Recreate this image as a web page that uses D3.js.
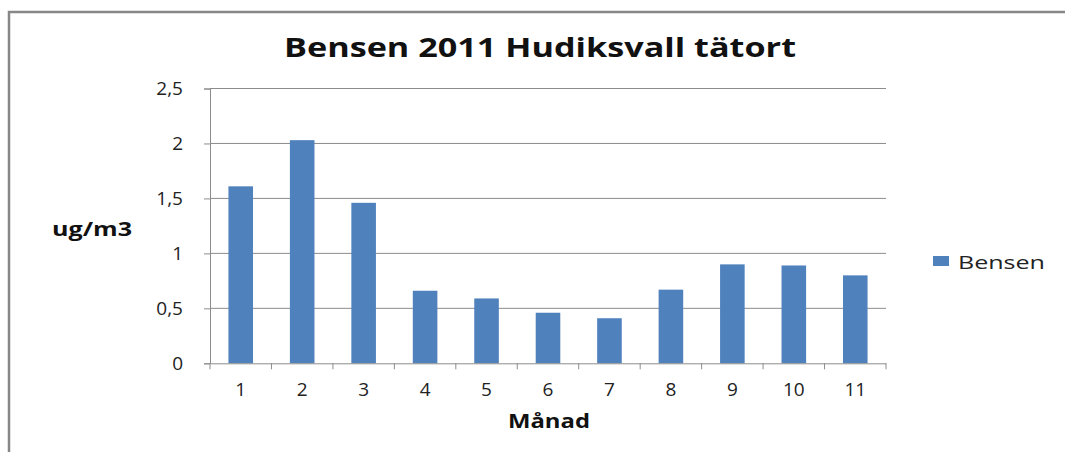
<!DOCTYPE html>
<html lang="sv">
  <head>
    <meta charset="utf-8" />
    <script type="text/javascript" src="https://d3js.org/d3.v7.min.js"></script>
    <style>
      body { margin: 0; background: #fff; }
    </style>
  </head>

  <body>
    <script type="text/javascript">
      let w = 1065;
      let h = 452;

      // data
      let months = ["1", "2", "3", "4", "5", "6", "7", "8", "9", "10", "11"];
      let bensen = [1.61, 2.03, 1.46, 0.66, 0.59, 0.46, 0.41, 0.67, 0.9, 0.89, 0.8];
      let yTicks = [0, 0.5, 1, 1.5, 2, 2.5];

      let font = "'Open Sans', 'DejaVu Sans', sans-serif";

      let svg = d3
        .select("body")
        .append("svg")
        .attr("width", w)
        .attr("height", h);

      // outer frame (only top and left edges visible)
      svg.append("path")
        .attr("d", "M9,452 L9,12 L1065,12")
        .attr("fill", "none")
        .attr("stroke", "#878787")
        .attr("stroke-width", 2.5);

      let x = d3.scaleBand().domain(months).range([210, 886]).paddingInner(0).paddingOuter(0);
      let y = d3.scaleLinear().domain([0, 2.5]).range([363.3, 88.5]);

      // gridlines
      svg.selectAll("line.grid")
        .data(yTicks.slice(1))
        .join("line")
        .attr("class", "grid")
        .attr("x1", 210)
        .attr("x2", 886)
        .attr("y1", (d) => y(d))
        .attr("y2", (d) => y(d))
        .attr("stroke", "#8c8c8c")
        .attr("stroke-width", 1);

      // bars
      let bw = x.bandwidth() / 2.5;
      svg.selectAll("rect.bar")
        .data(bensen)
        .join("rect")
        .attr("class", "bar")
        .attr("x", (d, i) => x(months[i]) + (x.bandwidth() - bw) / 2)
        .attr("y", (d) => y(d))
        .attr("width", bw)
        .attr("height", (d) => y(0) - y(d))
        .attr("fill", "#4f81bd");

      // y axis
      let yAxis = svg.append("g")
        .attr("transform", "translate(210,0)")
        .call(d3.axisLeft(y).tickValues(yTicks).tickSize(6).tickPadding(21)
          .tickFormat((d) => String(d).replace(".", ",")));
      yAxis.select(".domain").attr("stroke", "#8c8c8c");
      yAxis.selectAll(".tick line").attr("stroke", "#8c8c8c");
      yAxis.selectAll("text")
        .attr("font-family", font)
        .attr("font-size", "19px")
        .attr("fill", "#222");

      // x axis
      let xAxis = svg.append("g")
        .attr("transform", "translate(0," + y(0) + ")")
        .call(d3.axisBottom(x).tickSize(0).tickPadding(19));
      xAxis.select(".domain").attr("stroke", "#8c8c8c");
      xAxis.selectAll("text")
        .attr("font-family", font)
        .attr("font-size", "19px")
        .attr("fill", "#222");
      // category boundary ticks
      xAxis.selectAll("line.sep")
        .data(d3.range(months.length + 1))
        .join("line")
        .attr("class", "sep")
        .attr("x1", (d) => 210 + d * x.step())
        .attr("x2", (d) => 210 + d * x.step())
        .attr("y1", 0)
        .attr("y2", 6)
        .attr("stroke", "#8c8c8c");

      // title
      svg.append("text")
        .attr("x", 540)
        .attr("y", 57)
        .attr("text-anchor", "middle")
        .attr("font-family", font)
        .attr("font-weight", "bold")
        .attr("font-size", "27px")
        .attr("textLength", 512)
        .attr("lengthAdjust", "spacingAndGlyphs")
        .attr("fill", "#111")
        .text("Bensen 2011 Hudiksvall tätort");

      // axis titles
      svg.append("text")
        .attr("x", 92)
        .attr("y", 236)
        .attr("text-anchor", "middle")
        .attr("font-family", font)
        .attr("font-weight", "bold")
        .attr("font-size", "20px")
        .attr("textLength", 80)
        .attr("lengthAdjust", "spacingAndGlyphs")
        .attr("fill", "#111")
        .text("ug/m3");

      svg.append("text")
        .attr("x", 549)
        .attr("y", 428)
        .attr("text-anchor", "middle")
        .attr("font-family", font)
        .attr("font-weight", "bold")
        .attr("font-size", "20px")
        .attr("textLength", 82)
        .attr("lengthAdjust", "spacingAndGlyphs")
        .attr("fill", "#111")
        .text("Månad");

      // legend
      svg.append("rect")
        .attr("x", 933)
        .attr("y", 256)
        .attr("width", 16)
        .attr("height", 10)
        .attr("fill", "#4f81bd");
      svg.append("text")
        .attr("x", 958)
        .attr("y", 269)
        .attr("font-family", font)
        .attr("font-size", "19px")
        .attr("textLength", 87)
        .attr("lengthAdjust", "spacingAndGlyphs")
        .attr("fill", "#222")
        .text("Bensen");
    </script>
  </body>
</html>
